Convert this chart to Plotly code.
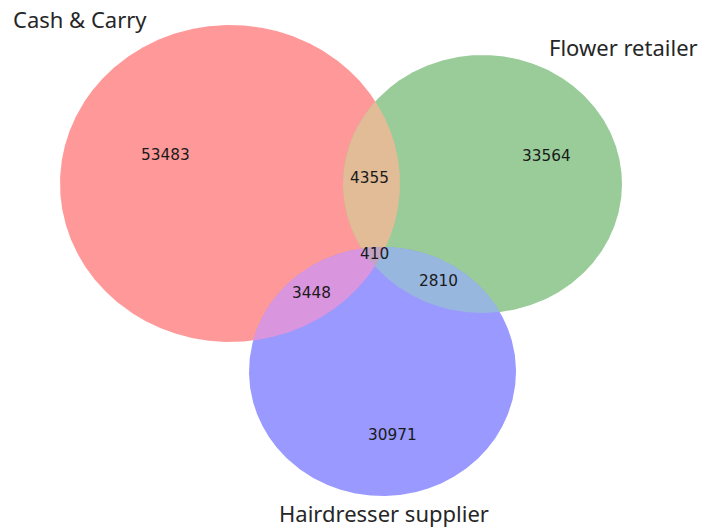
import numpy as np
import plotly.graph_objects as go

# ---- data ----
set_labels = ["Cash & Carry", "Flower retailer", "Hairdresser supplier"]
region_keys = ["100", "010", "001", "110", "101", "011", "111"]
region_counts = [53483, 33564, 30971, 4355, 3448, 2810, 410]

# ---- styling / layout geometry (pixel space of the window) ----
set_colors = ["#ff9999", "#99cc99", "#9999ff"]
overlap_colors = {"110": "#e1bc96", "101": "#da95df", "011": "#98b7df", "111": "#c2a3c3"}
centers = [(230.0, 183.5), (482.5, 184.0), (382.5, 371.5)]
radii = [(170.0, 158.5), (139.5, 129.0), (133.5, 124.5)]
count_pos = {"100": (165, 155), "010": (546, 156), "001": (392, 435),
             "110": (369, 178), "101": (311, 293), "011": (438, 281), "111": (374, 254)}
label_pos = [(11, 19, "left"), (700, 47, "right"), (384, 513, "center")]

W, H = 701, 528
theta = np.linspace(0, 2 * np.pi, 1440, endpoint=False)


def ellipse_pts(i):
    cx, cy = centers[i]
    rx, ry = radii[i]
    return cx + rx * np.cos(theta), cy + ry * np.sin(theta)


def inside(i, x, y):
    cx, cy = centers[i]
    rx, ry = radii[i]
    return ((x - cx) / rx) ** 2 + ((y - cy) / ry) ** 2 <= 1.0 + 1e-9


def intersection_poly(idx):
    xs, ys = [], []
    for i in idx:
        x, y = ellipse_pts(i)
        m = np.ones_like(x, dtype=bool)
        for j in idx:
            if j != i:
                m &= inside(j, x, y)
        xs.append(x[m]); ys.append(y[m])
    x = np.concatenate(xs); y = np.concatenate(ys)
    mx, my = x.mean(), y.mean()
    order = np.argsort(np.arctan2(y - my, x - mx))
    x, y = x[order], y[order]
    return np.append(x, x[0]), np.append(y, y[0])


fig = go.Figure()

for i in range(3):
    x, y = ellipse_pts(i)
    fig.add_trace(go.Scatter(x=np.append(x, x[0]), y=np.append(y, y[0]), mode="lines",
                             fill="toself", fillcolor=set_colors[i], line=dict(width=0),
                             hoverinfo="skip", showlegend=False))

for key in ["110", "101", "011", "111"]:
    idx = [k for k, c in enumerate(key) if c == "1"]
    x, y = intersection_poly(idx)
    fig.add_trace(go.Scatter(x=x, y=y, mode="lines", fill="toself",
                             fillcolor=overlap_colors[key], line=dict(width=0),
                             hoverinfo="skip", showlegend=False))

for key, cnt in zip(region_keys, region_counts):
    px, py = count_pos[key]
    fig.add_annotation(x=px, y=py, text=str(cnt), showarrow=False,
                       font=dict(family="DejaVu Sans", size=15.3, color="#1a1a1a"),
                       xanchor="center", yanchor="middle")

for lab, (px, py, anc) in zip(set_labels, label_pos):
    fig.add_annotation(x=px, y=py, text=lab, showarrow=False,
                       font=dict(family="Noto Sans", size=22, color="#262626"),
                       xanchor=anc, yanchor="middle")

fig.update_layout(width=W, height=H, margin=dict(l=0, r=0, t=0, b=0),
                  paper_bgcolor="white", plot_bgcolor="white",
                  xaxis=dict(range=[0, W], visible=False, fixedrange=True),
                  yaxis=dict(range=[H, 0], visible=False, fixedrange=True))

fig.write_html("out.html", config={"displayModeBar": False},
               post_script="document.body.style.margin='0';")
